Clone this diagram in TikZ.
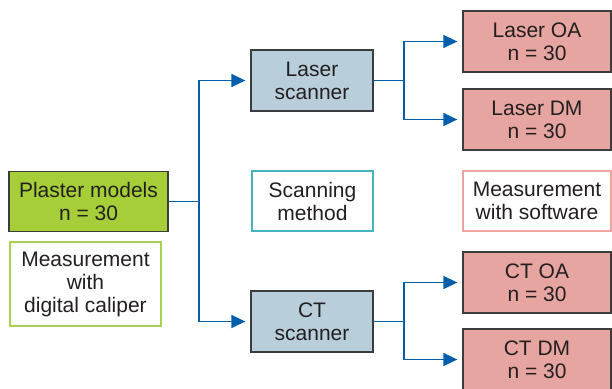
\documentclass[tikz,border=0pt]{standalone}
\usepackage{fontspec}
\setmainfont{Liberation Sans}
\usetikzlibrary{arrows.meta}
\definecolor{lineblue}{RGB}{0,94,170}
\definecolor{plgreen}{RGB}{166,206,57}
\definecolor{calgreen}{RGB}{165,208,80}
\definecolor{scanfill}{RGB}{184,206,219}
\definecolor{resfill}{RGB}{231,165,161}
\definecolor{tealb}{RGB}{70,180,190}
\definecolor{pinkb}{RGB}{238,165,160}
\definecolor{bordgray}{RGB}{60,60,60}
\definecolor{txt}{RGB}{35,31,32}
\tikzset{
  box/.style={draw=bordgray, line width=1.3pt, align=center, inner sep=0pt,
    text=txt, font=\fontsize{21}{23}\selectfont, anchor=center},
  legend/.style={box, line width=1.1pt},
  arr/.style={draw=lineblue, line width=1.4pt, -{Triangle[length=14pt,width=13pt]}, shorten >=5pt},
  ln/.style={draw=lineblue, line width=1.4pt},
}
\begin{document}
\begin{tikzpicture}[x=1pt,y=-1pt]
\useasboundingbox (0,0) rectangle (612,388);
\node[box, fill=plgreen, minimum width=159pt, minimum height=60pt] (pl) at (88.5,201.5) {Plaster models\\n = 30};
\node[legend, draw=calgreen, fill=white, minimum width=151pt, minimum height=84pt] (cal) at (85.5,284) {Measurement\\with\\digital caliper};
\node[box, fill=scanfill, minimum width=122pt, minimum height=61pt] (ls) at (312,80.5) {Laser\\scanner};
\node[box, fill=scanfill, minimum width=122pt, minimum height=61pt] (cs) at (312,321.5) {CT\\scanner};
\node[legend, draw=tealb, fill=white, minimum width=121pt, minimum height=60pt] (sm) at (312.5,201) {Scanning\\method};
\node[box, fill=resfill, minimum width=148pt, minimum height=61pt] (loa) at (537,41.5) {Laser OA\\n = 30};
\node[box, fill=resfill, minimum width=148pt, minimum height=61pt] (ldm) at (537,119.5) {Laser DM\\n = 30};
\node[legend, draw=pinkb, fill=white, minimum width=148pt, minimum height=60pt] (ms) at (537,201) {Measurement\\with software};
\node[box, fill=resfill, minimum width=148pt, minimum height=61pt] (coa) at (537,282.5) {CT OA\\n = 30};
\node[box, fill=resfill, minimum width=148pt, minimum height=61pt] (cdm) at (537,359.5) {CT DM\\n = 30};
\coordinate (j1) at (199,201.5);
\coordinate (j2) at (404,80.5);
\coordinate (j3) at (404,321.5);
\draw[ln] (pl.east) -- (j1);
\draw[arr] (j1) |- (ls.west);
\draw[arr] (j1) |- (cs.west);
\draw[ln] (ls.east) -- (j2);
\draw[arr] (j2) |- (loa.west);
\draw[arr] (j2) |- (ldm.west);
\draw[ln] (cs.east) -- (j3);
\draw[arr] (j3) |- (coa.west);
\draw[arr] (j3) |- (cdm.west);
\end{tikzpicture}
\end{document}
